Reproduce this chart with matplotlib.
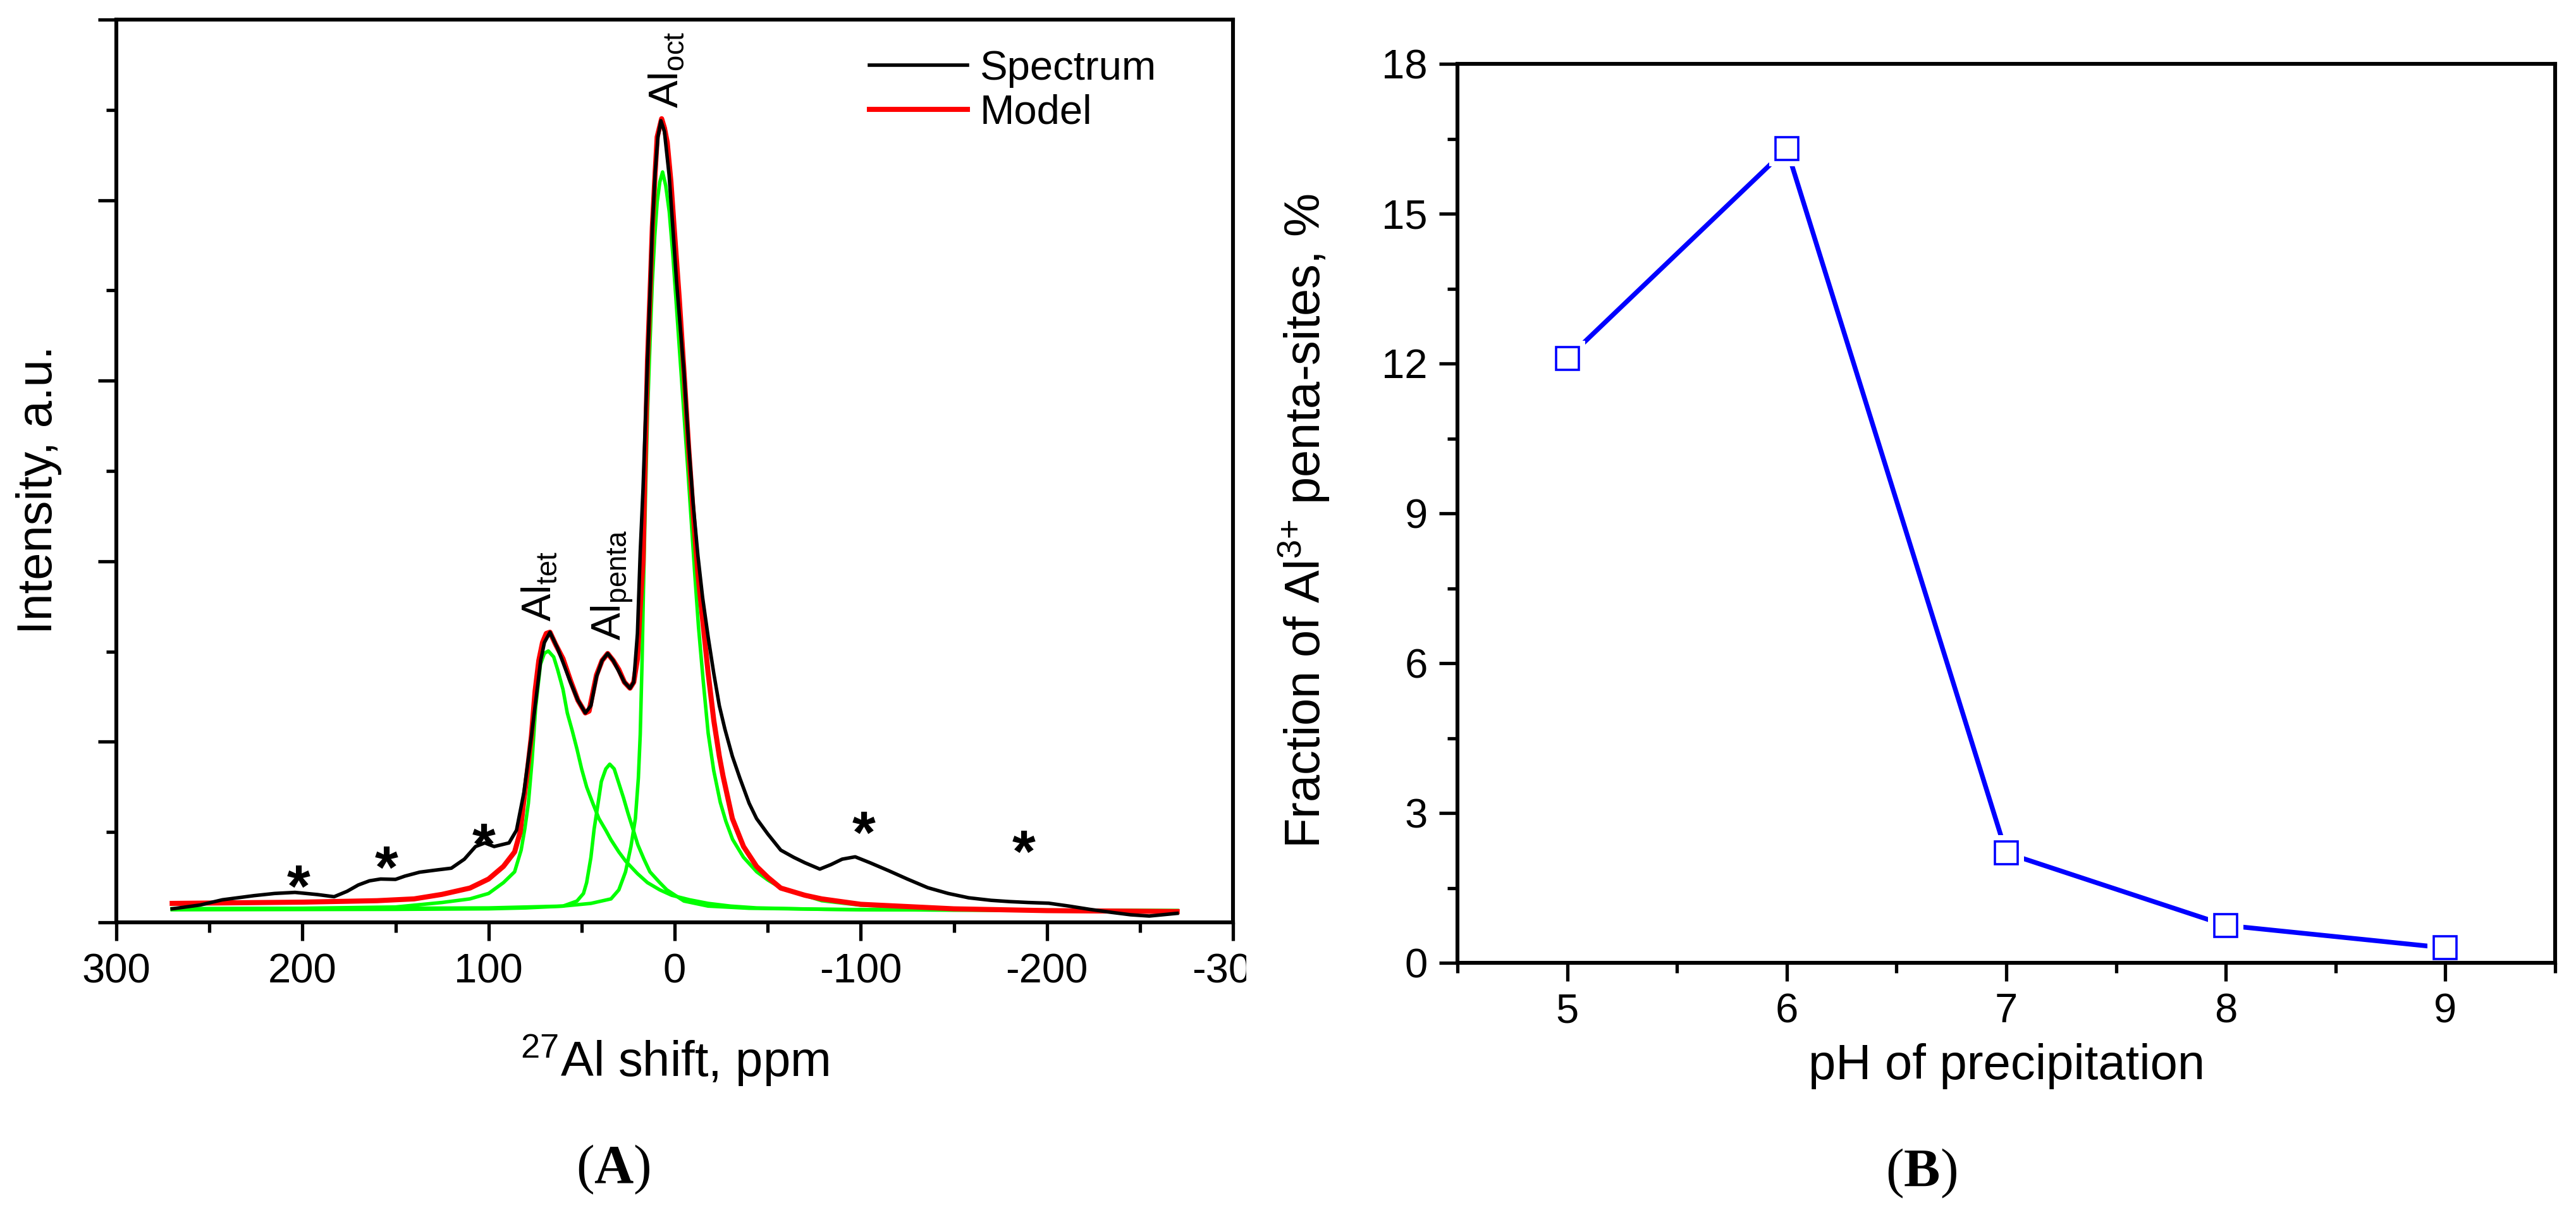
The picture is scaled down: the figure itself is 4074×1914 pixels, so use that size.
import matplotlib
matplotlib.use('Agg')
import matplotlib.pyplot as plt
from matplotlib.ticker import MultipleLocator, FuncFormatter
from matplotlib.patches import Rectangle

plt.rcParams['font.family'] = ['Liberation Sans', 'DejaVu Sans']
plt.rcParams['mathtext.fontset'] = 'custom'
plt.rcParams['mathtext.rm'] = 'Liberation Sans'
plt.rcParams['mathtext.bf'] = 'Liberation Serif:bold'
plt.rcParams['mathtext.default'] = 'regular'
plt.rcParams['axes.unicode_minus'] = False

# ---------------- Panel A data (27Al NMR) ----------------
spectrum_ppm = [270, 255, 243, 226, 215, 204, 192, 183, 176, 170, 164, 158, 150, 145, 137, 128,
                120, 113, 107, 102, 97, 89, 85, 81, 77, 74, 72, 70, 67, 63, 60, 56, 52, 48, 45,
                42, 39, 36, 33, 30, 27, 24, 22, 20, 18.5, 17, 16, 14.6, 13, 12, 10.5, 9, 7.4,
                5.5, 3, 1, -1, -3, -5, -7.5, -10, -12.5, -15, -18, -21, -24, -27, -31, -35, -40,
                -44, -50, -57, -64, -70, -78, -84, -90, -97, -105, -115, -125, -136, -147, -158,
                -170, -180, -190, -201, -212, -223, -235, -245, -255, -265, -270]
spectrum_int = [0.075, 0.096, 0.125, 0.148, 0.160, 0.166, 0.154, 0.142, 0.172, 0.207, 0.230, 0.240,
                0.238, 0.256, 0.278, 0.290, 0.300, 0.350, 0.420, 0.440, 0.420, 0.440, 0.510, 0.720,
                1.030, 1.280, 1.450, 1.550, 1.607, 1.520, 1.440, 1.330, 1.230, 1.160, 1.200, 1.360,
                1.450, 1.489, 1.450, 1.390, 1.330, 1.297, 1.330, 1.600, 2.050, 2.400, 2.700, 3.110,
                3.550, 3.850, 4.150, 4.350, 4.440, 4.380, 4.140, 3.850, 3.550, 3.300, 3.050, 2.650,
                2.310, 2.030, 1.800, 1.580, 1.380, 1.200, 1.070, 0.920, 0.800, 0.660, 0.575, 0.490,
                0.400, 0.360, 0.330, 0.295, 0.320, 0.350, 0.363, 0.330, 0.286, 0.240, 0.192, 0.160,
                0.136, 0.122, 0.115, 0.110, 0.106, 0.090, 0.072, 0.055, 0.042, 0.035, 0.045, 0.050]

model_ppm = [270, 240, 200, 160, 140, 125, 110, 100, 92, 86, 83, 81, 79, 77, 75, 73, 71, 69, 67,
             64, 60, 56, 52, 48, 46, 44, 42, 39, 36, 33, 30, 27, 24, 22, 20, 18.5, 17, 16, 14.6,
             13, 12, 10.5, 9.4, 7, 5.5, 4, 2, 0.3, -2.5, -5, -7.5, -10, -12.5, -15, -18, -21,
             -24, -26, -31, -37, -44, -50, -57, -70, -79, -100, -150, -200, -270]
model_int = [0.105, 0.108, 0.112, 0.120, 0.130, 0.155, 0.190, 0.240, 0.310, 0.390, 0.500, 0.680,
             0.850, 1.030, 1.280, 1.450, 1.550, 1.600, 1.607, 1.540, 1.460, 1.340, 1.230, 1.160,
             1.170, 1.270, 1.370, 1.450, 1.489, 1.450, 1.400, 1.330, 1.297, 1.330, 1.460, 1.750,
             2.000, 2.500, 3.110, 3.550, 3.850, 4.150, 4.350, 4.451, 4.400, 4.320, 4.100, 3.850,
             3.450, 3.050, 2.630, 2.260, 1.930, 1.680, 1.380, 1.120, 0.920, 0.810, 0.575, 0.420,
             0.310, 0.250, 0.190, 0.150, 0.130, 0.100, 0.075, 0.065, 0.060]

tet_ppm = [270, 200, 150, 125, 110, 100, 92, 86, 82.5, 80.5, 78.6, 76.6, 74.7, 72.1, 70, 67.9,
           65, 62.9, 60, 57.7, 55, 52.5, 50, 47.3, 44, 40.7, 37, 34.2, 30, 26.4, 20, 14.6, 8,
           1.6, -8, -18, -30, -44, -80, -150, -270]
tet_int = [0.075, 0.078, 0.085, 0.110, 0.130, 0.160, 0.220, 0.280, 0.400, 0.520, 0.660, 0.900,
           1.190, 1.430, 1.490, 1.503, 1.470, 1.400, 1.290, 1.160, 1.060, 0.960, 0.850, 0.750,
           0.660, 0.575, 0.510, 0.457, 0.390, 0.340, 0.270, 0.220, 0.180, 0.150, 0.125, 0.105,
           0.090, 0.080, 0.072, 0.068, 0.065]

penta_ppm = [270, 150, 100, 80, 60, 52.5, 49, 47.3, 45, 43.3, 41, 39.4, 37, 34.9, 32.5, 30.3,
             27.5, 25.1, 22.5, 19.8, 16.5, 13.3, 8, 4.2, -5, -18, -40, -100, -270]
penta_int = [0.070, 0.072, 0.075, 0.080, 0.090, 0.118, 0.160, 0.220, 0.360, 0.515, 0.670, 0.780,
             0.850, 0.876, 0.850, 0.780, 0.690, 0.605, 0.520, 0.430, 0.350, 0.280, 0.220, 0.180,
             0.118, 0.090, 0.078, 0.070, 0.065]

oct_ppm = [270, 150, 100, 60.3, 45, 34.2, 30, 26.4, 23.5, 21.1, 19.5, 18.5, 17.5, 16.6, 15.6,
           14.6, 13.3, 12.0, 10.7, 9.4, 8, 6.5, 4.8, 2.9, 1, -1, -3, -5, -7, -8.9, -10.8, -12.8,
           -15.4, -18, -21, -24.5, -27.5, -31.1, -37, -44.1, -50, -57.2, -79, -100, -150, -200,
           -270]
oct_int = [0.075, 0.078, 0.080, 0.090, 0.105, 0.130, 0.180, 0.280, 0.420, 0.575, 0.800, 1.040,
           1.450, 1.930, 2.400, 2.815, 3.200, 3.550, 3.800, 3.990, 4.100, 4.156, 4.080, 3.935,
           3.700, 3.405, 3.110, 2.815, 2.520, 2.226, 1.930, 1.637, 1.330, 1.048, 0.840, 0.665,
           0.560, 0.460, 0.360, 0.280, 0.235, 0.190, 0.120, 0.095, 0.075, 0.068, 0.062]

site_labels = [r'Al$_{tet}$', r'Al$_{penta}$', r'Al$_{oct}$']
site_label_ppm = [72.4, 33.3, 4.1]
site_label_int = [1.667, 1.56, 4.51]

spinning_sideband_ppm = [202, 155, 102.4, -101.7, -187.5]
spinning_sideband_int = [0.28, 0.385, 0.51, 0.577, 0.47]

# ---------------- Panel B data ----------------
ph_values = [5, 6, 7, 8, 9]
penta_fraction = [12.1, 16.3, 2.2, 0.75, 0.3]

W, H = 4074, 1914
fig = plt.figure(figsize=(W / 100, H / 100), dpi=100)

axA = fig.add_axes([184 / W, (H - 1459) / H, (1950 - 184) / W, (1459 - 31) / H])
axB = fig.add_axes([2305 / W, (H - 1523) / H, (4041 - 2305) / W, (1523 - 101) / H])

tick_fs = 47
label_fs = 56

for ax in (axA, axB):
    for sp in ax.spines.values():
        sp.set_linewidth(4.4)
    ax.tick_params(which='both', direction='out', width=3.8, top=False, right=False,
                   labelsize=tick_fs)
    ax.tick_params(which='major', length=21)
    ax.tick_params(which='minor', length=11.5)

# ---- Panel A ----
axA.plot(tet_ppm, tet_int, color='#00ff00', lw=4.0, zorder=2)
axA.plot(penta_ppm, penta_int, color='#00ff00', lw=4.0, zorder=2)
axA.plot(oct_ppm, oct_int, color='#00ff00', lw=4.0, zorder=2)
l_model, = axA.plot(model_ppm, model_int, color='#ff0000', lw=5.8, zorder=3,
                    solid_joinstyle='round')
l_spec, = axA.plot(spectrum_ppm, spectrum_int, color='black', lw=4.0, zorder=4,
                   solid_joinstyle='round')

axA.set_xlim(300, -300)
axA.set_ylim(0, 5)
axA.xaxis.set_major_locator(MultipleLocator(100))
axA.xaxis.set_minor_locator(MultipleLocator(50))
axA.xaxis.set_major_formatter(FuncFormatter(lambda v, p: '%d' % round(v)))
axA.yaxis.set_major_locator(MultipleLocator(1))
axA.yaxis.set_minor_locator(MultipleLocator(0.5))
axA.tick_params(axis='y', labelleft=False)
axA.tick_params(axis='x', pad=14)

axA.set_xlabel(r'$^{27}$Al shift, ppm', fontsize=label_fs, va='baseline')
axA.xaxis.set_label_coords(0.5, (1459 - 1703) / 1428)
axA.set_ylabel('Intensity, a.u.', fontsize=label_fs, va='center')
axA.yaxis.set_label_coords((61 - 184) / 1766, 0.479)

for lab, p, v in zip(site_labels, site_label_ppm, site_label_int):
    axA.text(p, v, lab, rotation=90, ha='center', va='bottom', fontsize=47, zorder=5)

for p, v in zip(spinning_sideband_ppm, spinning_sideband_int):
    axA.annotate('*', xy=(p, v), xytext=(0, -0.575 * 68), textcoords='offset points',
                 ha='center', va='baseline', fontsize=68, fontweight='bold', zorder=5)

axA.legend([l_spec, l_model], ['Spectrum', 'Model'], loc='upper left',
           bbox_to_anchor=(1375 / W, 1 - 79 / H), bbox_transform=fig.transFigure,
           frameon=False, fontsize=47, handlelength=2.37, handletextpad=0.31,
           labelspacing=0.15, borderpad=0, borderaxespad=0)

# ---- Panel B ----
axB.plot(ph_values, penta_fraction, color='#0000ff', lw=5.4, zorder=2, clip_on=False)
axB.plot(ph_values, penta_fraction, linestyle='none', marker='s', ms=40,
         mfc='white', mec='white', mew=0, zorder=2.2)
axB.plot(ph_values, penta_fraction, linestyle='none', marker='s', ms=26.5,
         mfc='none', mec='#0000ff', mew=2.6, zorder=3, clip_on=False)

axB.set_xlim(4.5, 9.5)
axB.set_ylim(0, 18)
axB.xaxis.set_major_locator(MultipleLocator(1))
axB.xaxis.set_minor_locator(MultipleLocator(0.5))
axB.yaxis.set_major_locator(MultipleLocator(3))
axB.yaxis.set_minor_locator(MultipleLocator(1.5))
axB.xaxis.set_major_formatter(FuncFormatter(lambda v, p: '%d' % round(v)))
axB.yaxis.set_major_formatter(FuncFormatter(lambda v, p: '%d' % round(v)))
axB.tick_params(axis='x', pad=13)
axB.tick_params(axis='y', pad=13)

axB.set_xlabel('pH of precipitation', fontsize=label_fs, va='baseline')
axB.xaxis.set_label_coords(0.5, (1523 - 1707) / 1422)
axB.set_ylabel(r'Fraction of Al$^{3{+}}$ penta-sites, %', fontsize=label_fs, va='center')
axB.yaxis.set_label_coords((2063 - 2305) / 1736, 0.4916)

# panel letters
fig.text(970 / W, 1 - 1850 / H, r'($\mathbf{A}$)', family='Liberation Serif',
         fontsize=62, ha='center', va='center')
fig.text(3038 / W, 1 - 1856 / H, r'($\mathbf{B}$)', family='Liberation Serif',
         fontsize=62, ha='center', va='center')

# panel A image was cropped at its right edge
fig.add_artist(Rectangle((1971 / W, 1 - 1620 / H), 51 / W, 150 / H,
                         transform=fig.transFigure, facecolor='white',
                         edgecolor='none', zorder=10))

fig.savefig('out.png', dpi=100, facecolor='white')
